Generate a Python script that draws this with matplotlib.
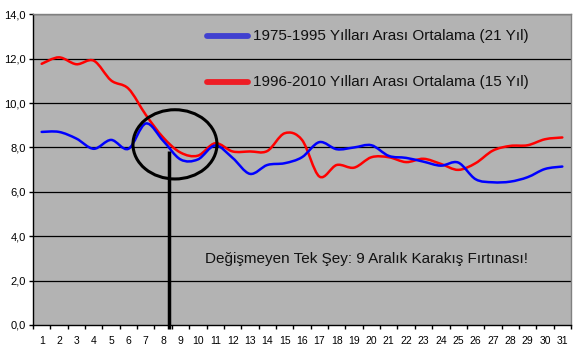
import matplotlib
matplotlib.use('Agg')
import matplotlib.pyplot as plt
from matplotlib.path import Path
from matplotlib.patches import PathPatch, Ellipse
from matplotlib.lines import Line2D
import numpy as np

plt.rcParams['font.family'] = ['Liberation Sans', 'DejaVu Sans']

days = list(range(1, 32))
blue_vals = [8.70, 8.70, 8.40, 7.94, 8.34, 7.94, 9.08, 8.30, 7.46, 7.46, 8.09, 7.53,
             6.81, 7.21, 7.29, 7.56, 8.24, 7.92, 8.00, 8.10, 7.62, 7.53, 7.36, 7.18,
             7.32, 6.57, 6.43, 6.46, 6.66, 7.03, 7.14]
red_vals = [11.77, 12.06, 11.75, 11.91, 11.02, 10.65, 9.47, 8.45, 7.77, 7.63, 8.19, 7.82,
            7.82, 7.84, 8.64, 8.34, 6.69, 7.21, 7.09, 7.56, 7.56, 7.34, 7.49, 7.26,
            6.99, 7.29, 7.86, 8.07, 8.10, 8.37, 8.45]
y_ticks = [0, 2, 4, 6, 8, 10, 12, 14]
blue_label = '1975-1995 Yılları Arası Ortalama (21 Yıl)'
red_label = '1996-2010 Yılları Arası Ortalama (15 Yıl)'
note_text = 'Değişmeyen Tek Şey: 9 Aralık Karakış Fırtınası!'


def smooth_path(xs, ys):
    pts = np.column_stack([xs, ys]).astype(float)
    n = len(pts)
    verts = [pts[0]]
    codes = [Path.MOVETO]
    for i in range(n - 1):
        p0 = pts[i - 1] if i > 0 else pts[i]
        p1 = pts[i]
        p2 = pts[i + 1]
        p3 = pts[i + 2] if i + 2 < n else pts[i + 1]
        c1 = p1 + (p2 - p0) / 6.0
        c2 = p2 - (p3 - p1) / 6.0
        verts += [c1, c2, p2]
        codes += [Path.CURVE4] * 3
    return Path(verts, codes)


W, H = 580, 353
fig = plt.figure(figsize=(W / 100, H / 100), dpi=100)
ax = fig.add_axes([33 / W, 1 - 325 / H, 538 / W, (325 - 14.3) / H])
ax.set_facecolor('#b3b3b3')
ax.set_xlim(0.5, 31.5)
ax.set_ylim(0, 14)

for yv in y_ticks[1:]:
    ax.axhline(yv, color='black', lw=0.9, zorder=1)

ax.add_patch(PathPatch(smooth_path(days, blue_vals), fill=False, edgecolor='#0000ff',
                       lw=1.8, zorder=3, capstyle='round', joinstyle='round'))
ax.add_patch(PathPatch(smooth_path(days, red_vals), fill=False, edgecolor='#ff0000',
                       lw=1.8, zorder=2, capstyle='round', joinstyle='round'))

ax.add_patch(Ellipse((8.68, 8.14), width=4.84, height=3.12, fill=False,
                     edgecolor='black', lw=2.2, zorder=4))
ax.plot([8.36, 8.36], [7.85, -0.2], color='black', lw=2.5, solid_capstyle='butt',
        clip_on=False, zorder=5)

# axes styling
for s in ['top', 'right']:
    ax.spines[s].set_color('#808080')
    ax.spines[s].set_linewidth(1.0)
for s in ['left', 'bottom']:
    ax.spines[s].set_color('black')
    ax.spines[s].set_linewidth(1.0)

ax.set_yticks(y_ticks)
ax.set_yticklabels([f'{v:.1f}'.replace('.', ',') for v in y_ticks], fontsize=8)
ax.tick_params(axis='y', direction='out', length=3, width=1, pad=2)

ax.set_xticks(np.arange(0.5, 32, 1))
ax.set_xticklabels([])
ax.tick_params(axis='x', which='major', direction='out', length=3, width=1)
ax.set_xticks(days, minor=True)
ax.set_xticklabels([str(d) for d in days], minor=True, fontsize=7.5)
ax.tick_params(axis='x', which='minor', length=0, pad=8)

# legend drawn manually
fig.add_artist(Line2D([207 / W, 248 / W], [1 - 35.5 / H] * 2, color='#4040d0', lw=4.2,
                      solid_capstyle='round'))
fig.add_artist(Line2D([207 / W, 248 / W], [1 - 81.5 / H] * 2, color='#ee1c24', lw=4.2,
                      solid_capstyle='round'))
fig.text(253 / W, 1 - 36 / H, blue_label, fontsize=11, va='center', ha='left', color='#111111')
fig.text(253 / W, 1 - 82 / H, red_label, fontsize=11, va='center', ha='left', color='#111111')

fig.text(205 / W, 1 - 259 / H, note_text, fontsize=11, va='center', ha='left', color='#111111')

fig.savefig('out.png', dpi=100, facecolor='white')
